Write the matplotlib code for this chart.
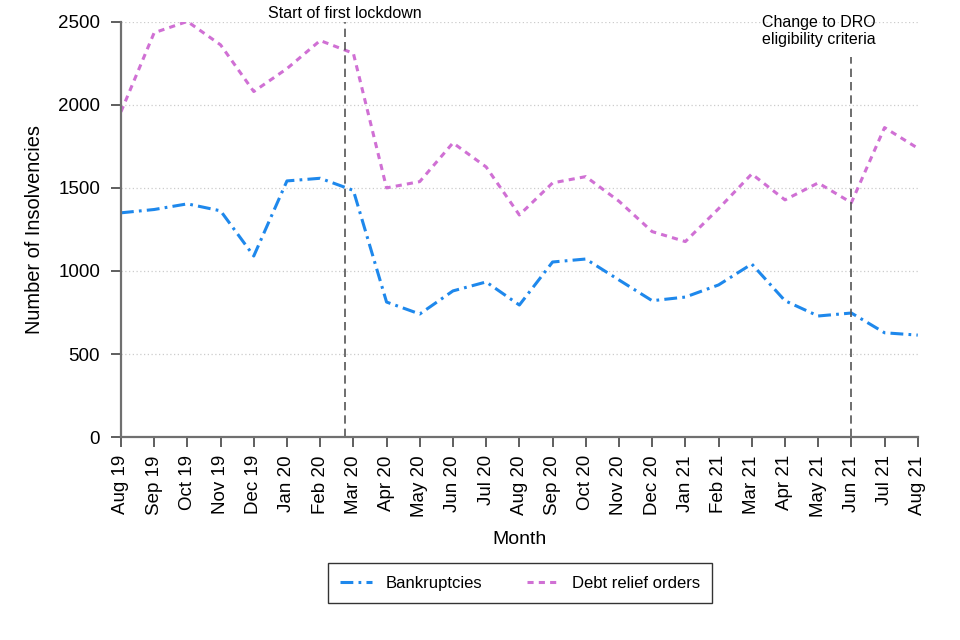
import matplotlib
matplotlib.use("Agg")
import matplotlib.pyplot as plt

plt.rcParams['font.family'] = ['Liberation Sans', 'DejaVu Sans']

# Monthly insolvencies, Aug 2019 - Aug 2021
months = ["Aug 19", "Sep 19", "Oct 19", "Nov 19", "Dec 19", "Jan 20", "Feb 20",
          "Mar 20", "Apr 20", "May 20", "Jun 20", "Jul 20", "Aug 20", "Sep 20",
          "Oct 20", "Nov 20", "Dec 20", "Jan 21", "Feb 21", "Mar 21", "Apr 21",
          "May 21", "Jun 21", "Jul 21", "Aug 21"]
bankruptcies = [1350, 1370, 1404, 1362, 1090, 1542, 1558, 1485, 813, 741, 880,
                934, 795, 1054, 1072, 946, 821, 843, 916, 1042, 821, 729, 747,
                628, 614]
dro = [1958, 2434, 2502, 2361, 2080, 2218, 2387, 2310, 1500, 1538, 1771, 1626,
       1337, 1530, 1568, 1420, 1237, 1177, 1375, 1584, 1428, 1530, 1411, 1863,
       1739]

lockdown_pos = 6.75
dro_change_pos = 22

x = list(range(len(months)))

fig = plt.figure(figsize=(9.6, 6.4), dpi=100)
ax = fig.add_axes([0.126, 0.317, 0.830, 0.649])

ax.plot(x, bankruptcies, color='#1E88EC', linewidth=2.2,
        dashes=(4.2, 1.7, 0.9, 1.7), label='Bankruptcies')
ax.plot(x, dro, color='#D070D4', linewidth=2.2,
        dashes=(2.0, 1.7), label='Debt relief orders')

ax.axvline(lockdown_pos, color='#555555', linewidth=1.2, dashes=(5, 3))
ax.plot([dro_change_pos, dro_change_pos], [0, 2290], color='#555555',
        linewidth=1.2, dashes=(5, 3))

ax.text(lockdown_pos, 2552, "Start of first lockdown", ha='center',
        va='center', fontsize=11.5)
ax.text(21.02, 2443, "Change to DRO\neligibility criteria", ha='center',
        va='center', fontsize=11.5, linespacing=1.15)

ax.set_xlim(0, 24)
ax.set_ylim(0, 2500)
ax.set_xticks(x)
ax.set_xticklabels(months, rotation=90, fontsize=13.5)
ax.set_yticks([0, 500, 1000, 1500, 2000, 2500])
ax.tick_params(axis='y', labelsize=13.5, pad=8)
ax.tick_params(axis='x', pad=6)
ax.tick_params(direction='out', length=7, color='#333333', width=1.1)
ax.yaxis.grid(True, color='#cccccc', linestyle=(0, (1, 2)), linewidth=0.9)
ax.set_axisbelow(True)

for s in ['top', 'right']:
    ax.spines[s].set_visible(False)
for s in ['left', 'bottom']:
    ax.spines[s].set_color('#707070')
    ax.spines[s].set_linewidth(1.6)

ax.set_xlabel("Month", fontsize=14, labelpad=10)
ax.set_ylabel("Number of Insolvencies", fontsize=14.4, labelpad=10)

leg = ax.legend(loc='upper center', bbox_to_anchor=(0.5417, 0.1203),
                bbox_transform=fig.transFigure, ncol=2, borderaxespad=0,
                frameon=True, fancybox=False, edgecolor='black', fontsize=12,
                handlelength=1.9, handletextpad=0.8, columnspacing=2.7,
                borderpad=0.75)
leg.get_frame().set_linewidth(1.0)

fig.savefig("out.png", dpi=100)
